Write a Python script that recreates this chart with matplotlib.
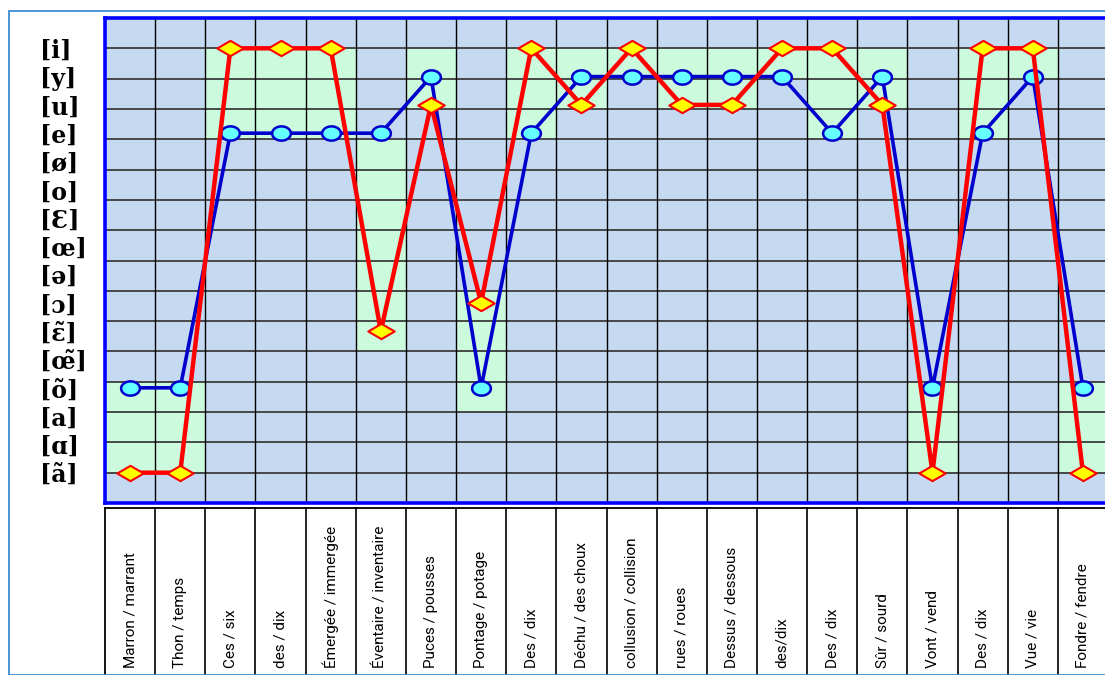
import numpy as np
import matplotlib
matplotlib.use("Agg")
import matplotlib.pyplot as plt
from matplotlib.path import Path
from matplotlib.patches import Rectangle
from matplotlib import font_manager as fm
from matplotlib import transforms

# Vowel scale, listed from the bottom row to the top row
vowels = ["ã", "ɑ", "a", "õ", "œ̃", "ɛ̃", "ɔ", "ə", "œ", "Ɛ", "o", "ø", "e", "u", "y", "i"]

# Word pairs
pairs = ["Marron / marrant", "Thon / temps", "Ces / six", "des / dix",
         "Émergée / immergée", "Éventaire / inventaire", "Puces / pousses",
         "Pontage / potage", "Des / dix", "Déchu / des choux",
         "collusion / collision", "rues / roues", "Dessus / dessous",
         "des/dix", "Des / dix", "Sûr / sourd", "Vont / vend", "Des / dix",
         "Vue / vie", "Fondre / fendre"]

# Vowel produced for each pair (blue circles) and target vowel (red diamonds)
blue_vowels = ["õ", "õ", "e", "e", "e", "e", "y", "õ", "e", "y",
               "y", "y", "y", "y", "e", "y", "õ", "e", "y", "õ"]
red_vowels = ["ã", "ã", "i", "i", "i", "ɛ̃", "u", "ɔ", "i", "u",
              "i", "u", "u", "i", "i", "u", "ã", "i", "i", "ã"]

# Highlighted grid rows per pair (lower and upper grid line)
shade_lo = [1, 1, 12, 12, 12, 5, 13, 3, 12, 13, 14, 13, 13, 14, 12, 13, 1, 12, 14, 1]
shade_hi = [4, 4, 15, 15, 15, 12, 15, 7, 15, 15, 15, 15, 15, 15, 15, 15, 4, 15, 15, 4]

n_rows = 16
W, H = 1105, 675
fig = plt.figure(figsize=(W / 100, H / 100), dpi=100)

# outer frame
fig.patches.append(Rectangle((9 / W, 0), 1.2, 1 - 11 / H, transform=fig.transFigure,
                             fill=False, edgecolor="#3D8BD0", lw=1.3, zorder=0))

left_px, right_px, top_px, bot_px = 105, 1108, 18, 503
ax = fig.add_axes([left_px / W, 1 - bot_px / H, (right_px - left_px) / W, (bot_px - top_px) / H])
ax.set_facecolor("#C5D9F1")
ax.set_xlim(0, len(pairs))
ax.set_ylim(0, n_rows)

level = {v: 1 + k * (n_rows - 2) / (len(vowels) - 1) for k, v in enumerate(vowels)}
x = np.arange(len(pairs)) + 0.5
yb = [level[v] for v in blue_vowels]
yr = [level[v] for v in red_vowels]

# highlighted cells
for i, (lo, hi) in enumerate(zip(shade_lo, shade_hi)):
    ax.add_patch(Rectangle((i, lo), 1, hi - lo, facecolor="#CCFADC", edgecolor="none", zorder=0.5))

for j in range(1, n_rows):
    ax.axhline(j, color="#3C3C3C", lw=1.3, zorder=1)
for i in range(1, len(pairs)):
    ax.axvline(i, color="black", lw=1.0, zorder=1)

t = np.linspace(0, 2 * np.pi, 60)
ellipse = Path(np.column_stack([np.cos(t), 0.76 * np.sin(t)]), closed=True)
diamond = Path([(-1, 0), (0, 0.58), (1, 0), (0, -0.58), (-1, 0)], closed=True)

ax.plot(x, yb, color="#0000CC", lw=2.6, zorder=3, marker=ellipse, markersize=13.5,
        markerfacecolor="#66FFFF", markeredgecolor="#0000CC", markeredgewidth=1.8)
ax.plot(x, yr, color="#FF0000", lw=3.2, zorder=4, marker=diamond, markersize=19,
        markerfacecolor="#FFFF00", markeredgecolor="#FF0000", markeredgewidth=1.5)

for s in ax.spines.values():
    s.set_color("#0000FF")
    s.set_linewidth(2.6)
ax.set_xticks([])
ax.set_yticks([level[v] for v in vowels])
ax.set_yticklabels(["[" + v + "]" for v in vowels],
                   fontdict=dict(family=["DejaVu Serif"], weight="bold", size=17))
ax.tick_params(axis="y", length=0, pad=(left_px - 40) * 0.72)
for lab in ax.get_yticklabels():
    lab.set_horizontalalignment("left")

# narrow sans-serif face for the pair labels
installed = {f.name for f in fm.fontManager.ttflist}
pair_family, pair_size = "DejaVu Sans", 10.5
for fam, size in [("Liberation Sans Narrow", 14), ("Roboto", 11), ("Liberation Sans", 11)]:
    if fam in installed:
        pair_family, pair_size = fam, size
        break

# table of word pairs below the chart
tab_top = 508
tab = fig.add_axes([left_px / W, -40 / H, (right_px - left_px) / W, (H - tab_top + 40) / H])
tab.set_xlim(0, len(pairs))
tab.set_ylim(0, 1)
tab.axis("off")
tab.add_line(plt.Line2D([0, 0], [0, 1], color="black", lw=1.3, clip_on=False))
tab.add_line(plt.Line2D([0, len(pairs)], [1, 1], color="black", lw=1.3, clip_on=False))
for i in range(1, len(pairs) + 1):
    tab.add_line(plt.Line2D([i, i], [0, 1], color="black", lw=1.2, clip_on=False))
tr = transforms.blended_transform_factory(tab.transData, fig.transFigure)
for xi, lab in zip(x, pairs):
    tab.text(xi, 1 - 668 / H, lab, transform=tr, rotation=90, ha="center", va="bottom",
             color="black", family=[pair_family, "DejaVu Sans"], fontsize=pair_size)

fig.savefig("out.png", dpi=100)
